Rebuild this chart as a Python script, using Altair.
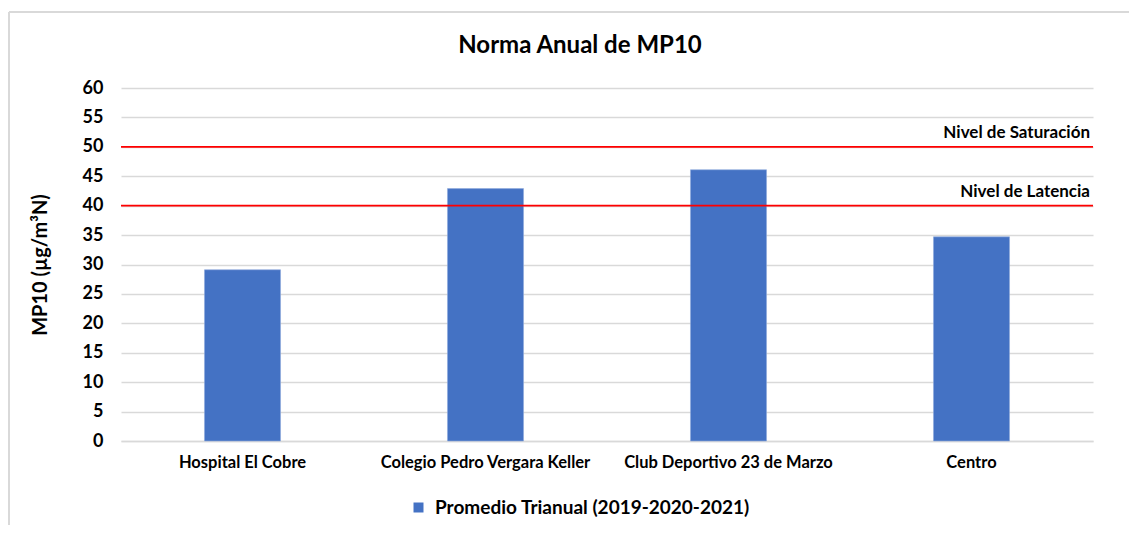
import altair as alt
import pandas as pd

stations = ["Hospital El Cobre", "Colegio Pedro Vergara Keller",
            "Club Deportivo 23 de Marzo", "Centro"]
values = [29.1, 42.9, 46.1, 34.7]
series_name = "Promedio Trianual (2019-2020-2021)"
ref_values = [50, 40]
ref_labels = ["Nivel de Saturación", "Nivel de Latencia"]
y_ticks = list(range(0, 61, 5))
chart_title = ["Norma Anual de MP10"]

FONT = "Lato"
GRID = "#D9D9D9"

df = pd.DataFrame({"Estación": stations, "MP10": values, "Serie": series_name})
ref = pd.DataFrame({"y": ref_values, "label": ref_labels})
tdf = pd.DataFrame({"t": chart_title})

W, H = 972, 353
yscale = alt.Scale(domain=[0, 60], nice=False)
y_axis = alt.Axis(values=y_ticks, title="MP10 (µg/m³N)", titleFont=FONT,
                  titleFontSize=20, titleFontWeight="bold", titleColor="#000000",
                  titleAngle=-90, titleX=-81, titleY=H / 2,
                  titleAlign="center", titleBaseline="middle",
                  labelFont=FONT, labelFontSize=18, labelFontWeight="bold",
                  labelColor="#000000", labelPadding=18, ticks=False,
                  labelOverlap=False, tickCount=50,
                  domain=False, grid=True, gridColor=GRID, gridWidth=1.3)

bars = alt.Chart(df).mark_bar(stroke="#8FAADC", strokeWidth=0.6).encode(
    x=alt.X("Estación:N", sort=stations,
            scale=alt.Scale(paddingInner=0.687, paddingOuter=0.3435),
            axis=alt.Axis(title=None, labelAngle=0, labelFont=FONT, labelFontSize=16.5,
                          labelFontWeight="bold", labelColor="#000000", labelPadding=13,
                          labelLimit=400, ticks=False, domain=True, domainColor=GRID,
                          domainWidth=1.5, grid=False)),
    y=alt.Y("MP10:Q", scale=yscale, axis=y_axis),
    color=alt.Color("Serie:N", scale=alt.Scale(range=["#4472C4"]),
                    legend=alt.Legend(title=None, orient="none", legendX=288, legendY=410,
                                      symbolType="square", symbolSize=100,
                                      symbolStrokeWidth=0, labelFont=FONT,
                                      labelFontSize=19, labelFontWeight="bold",
                                      labelColor="#000000", labelOffset=7, labelLimit=600)),
)

rules = alt.Chart(ref).mark_rule(color="#FF0000", strokeWidth=1.6).encode(
    y=alt.Y("y:Q", scale=yscale, axis=y_axis)
)

labels = alt.Chart(ref).mark_text(align="right", baseline="bottom", dy=-5,
                                  font=FONT, fontSize=17, fontWeight="bold",
                                  color="#000000").encode(
    y=alt.Y("y:Q", scale=yscale, axis=y_axis), x=alt.value(969), text="label:N"
)

title_mark = alt.Chart(tdf).mark_text(align="center", baseline="middle",
                                      font=FONT, fontSize=24, fontWeight="bold",
                                      color="#000000").encode(
    x=alt.value(459), y=alt.value(-42), text="t:N"
)

frame_left = alt.Chart(ref).mark_rule(color=GRID, strokeWidth=2).encode(
    x=alt.value(-112), y=alt.value(-76), y2=alt.value(H + 200)
)
frame_top = alt.Chart(ref).mark_rule(color=GRID, strokeWidth=2).encode(
    x=alt.value(-112), x2=alt.value(W + 200), y=alt.value(-76)
)

chart = alt.layer(frame_left, frame_top, bars, rules, labels, title_mark).properties(
    width=W, height=H,
    autosize=alt.AutoSizeParams(type="none"),
    padding={"left": 113, "top": 80, "right": 36, "bottom": 84},
).configure(background="#FFFFFF").configure_view(strokeWidth=0, strokeOpacity=0)

chart.save("out.html", embed_options={"renderer": "svg", "actions": False})
